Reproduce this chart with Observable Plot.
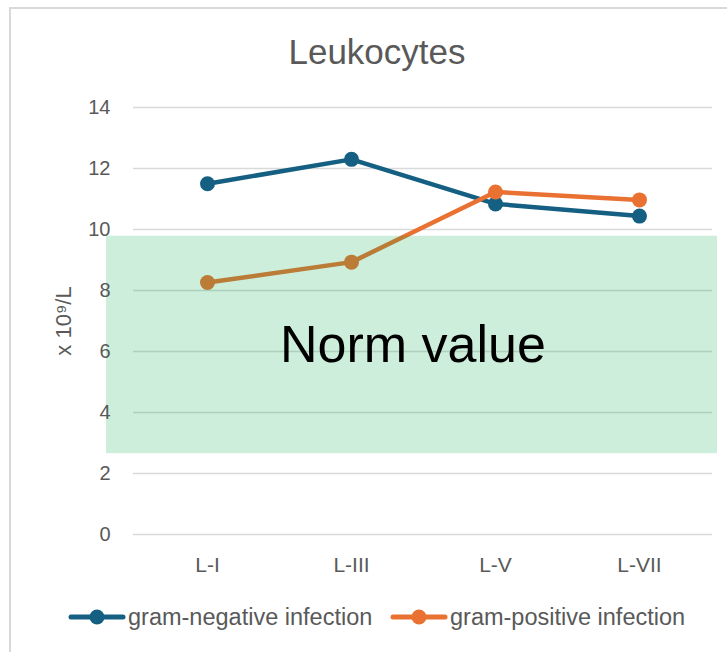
<!DOCTYPE html>
<html>
<head>
<meta charset="utf-8">
<script src="https://cdn.jsdelivr.net/npm/d3@7"></script>
<script src="https://cdn.jsdelivr.net/npm/@observablehq/plot@0.6"></script>
<style>
  html, body { margin: 0; padding: 0; background: #fff; }
  #wrap { position: relative; width: 727px; height: 652px; overflow: hidden; font-family: "Liberation Sans", Arial, sans-serif; }
  #border { position: absolute; left: 9px; top: 7px; width: 900px; height: 900px; border: 2px solid #D9D9D9; box-sizing: border-box; }
  #title { position: absolute; left: 9px; width: 736px; top: 31px; text-align: center; font-size: 35px; color: #595959; line-height: 42px; }
  #chart { position: absolute; left: 0; top: 0; }
  #legend { position: absolute; left: 0; top: 603px; height: 28px; font-size: 23.5px; color: #595959; }
  .item { display: flex; align-items: center; position: absolute; top: 0; height: 28px; white-space: nowrap; }
  .item svg { margin-right: 2px; }
</style>
</head>
<body>
<div id="wrap">
  <div id="border"></div>
  <div id="title"></div>
  <div id="chart"></div>
  <div id="legend"></div>
</div>
<script>
const titleText = "Leukocytes";
const yLabel = "x 10⁹/L";
const categories = ["L-I", "L-III", "L-V", "L-VII"];
const seriesNames = ["gram-negative infection", "gram-positive infection"];
const seriesColors = ["#156082", "#E97132"];
const gramNegative = [11.5, 12.3, 10.84, 10.44];
const gramPositive = [8.26, 8.93, 11.23, 10.97];
const yTicks = [0, 2, 4, 6, 8, 10, 12, 14];
const normRange = [2.65, 9.78];
const normLabel = "Norm value";

const data = [];
categories.forEach((c, i) => {
  data.push({cat: c, value: gramNegative[i], series: seriesNames[0]});
});
categories.forEach((c, i) => {
  data.push({cat: c, value: gramPositive[i], series: seriesNames[1]});
});

document.getElementById("title").textContent = titleText;

const chart = Plot.plot({
  width: 727,
  height: 652,
  marginTop: 107,
  marginBottom: 118,
  marginLeft: 133,
  marginRight: 15,
  style: {fontFamily: "Liberation Sans, Arial, sans-serif", fontSize: "20px", color: "#595959", background: "transparent"},
  x: {type: "band", domain: categories, padding: 0, label: null},
  y: {domain: [0, 14], ticks: yTicks, label: null},
  color: {domain: seriesNames, range: seriesColors},
  marks: [
    Plot.ruleY(yTicks, {stroke: "#D9D9D9", strokeWidth: 1.5}),
    Plot.line(data, {x: "cat", y: "value", z: "series", stroke: "series", strokeWidth: 4.5, strokeLinecap: "round", strokeLinejoin: "round"}),
    Plot.dot(data, {x: "cat", y: "value", fill: "series", r: 7.5}),
    Plot.rect([normRange], {y1: d => d[0], y2: d => d[1], fill: "#00AA4B", fillOpacity: 0.2, insetLeft: -27, insetRight: -5}),
    Plot.text([normLabel], {text: d => d, frameAnchor: "middle", y: () => 6.2, dx: -10, fontSize: 52, fill: "#000", fontFamily: "Liberation Sans, Arial, sans-serif"}),
    Plot.text([yLabel], {text: d => d, frameAnchor: "left", textAnchor: "middle", rotate: -90, dx: -70, fontSize: 22, fill: "#595959"}),
    Plot.axisY({ticks: yTicks, tickSize: 0, tickPadding: 23, label: null, fontSize: 20, fill: "#595959"}),
    Plot.axisX({tickSize: 0, tickPadding: 23, label: null, fontSize: 21, fill: "#595959"})
  ]
});
document.getElementById("chart").appendChild(chart);

const legend = document.getElementById("legend");
const lefts = [68, 390];
seriesNames.forEach((name, i) => {
  const item = document.createElement("div");
  item.className = "item";
  item.style.left = lefts[i] + "px";
  item.innerHTML = `<svg width="58" height="20"><line x1="3" y1="10" x2="55" y2="10" stroke="${seriesColors[i]}" stroke-width="5" stroke-linecap="round"/><circle cx="29" cy="10" r="7.5" fill="${seriesColors[i]}"/></svg><span>${name}</span>`;
  legend.appendChild(item);
});
</script>
</body>
</html>
